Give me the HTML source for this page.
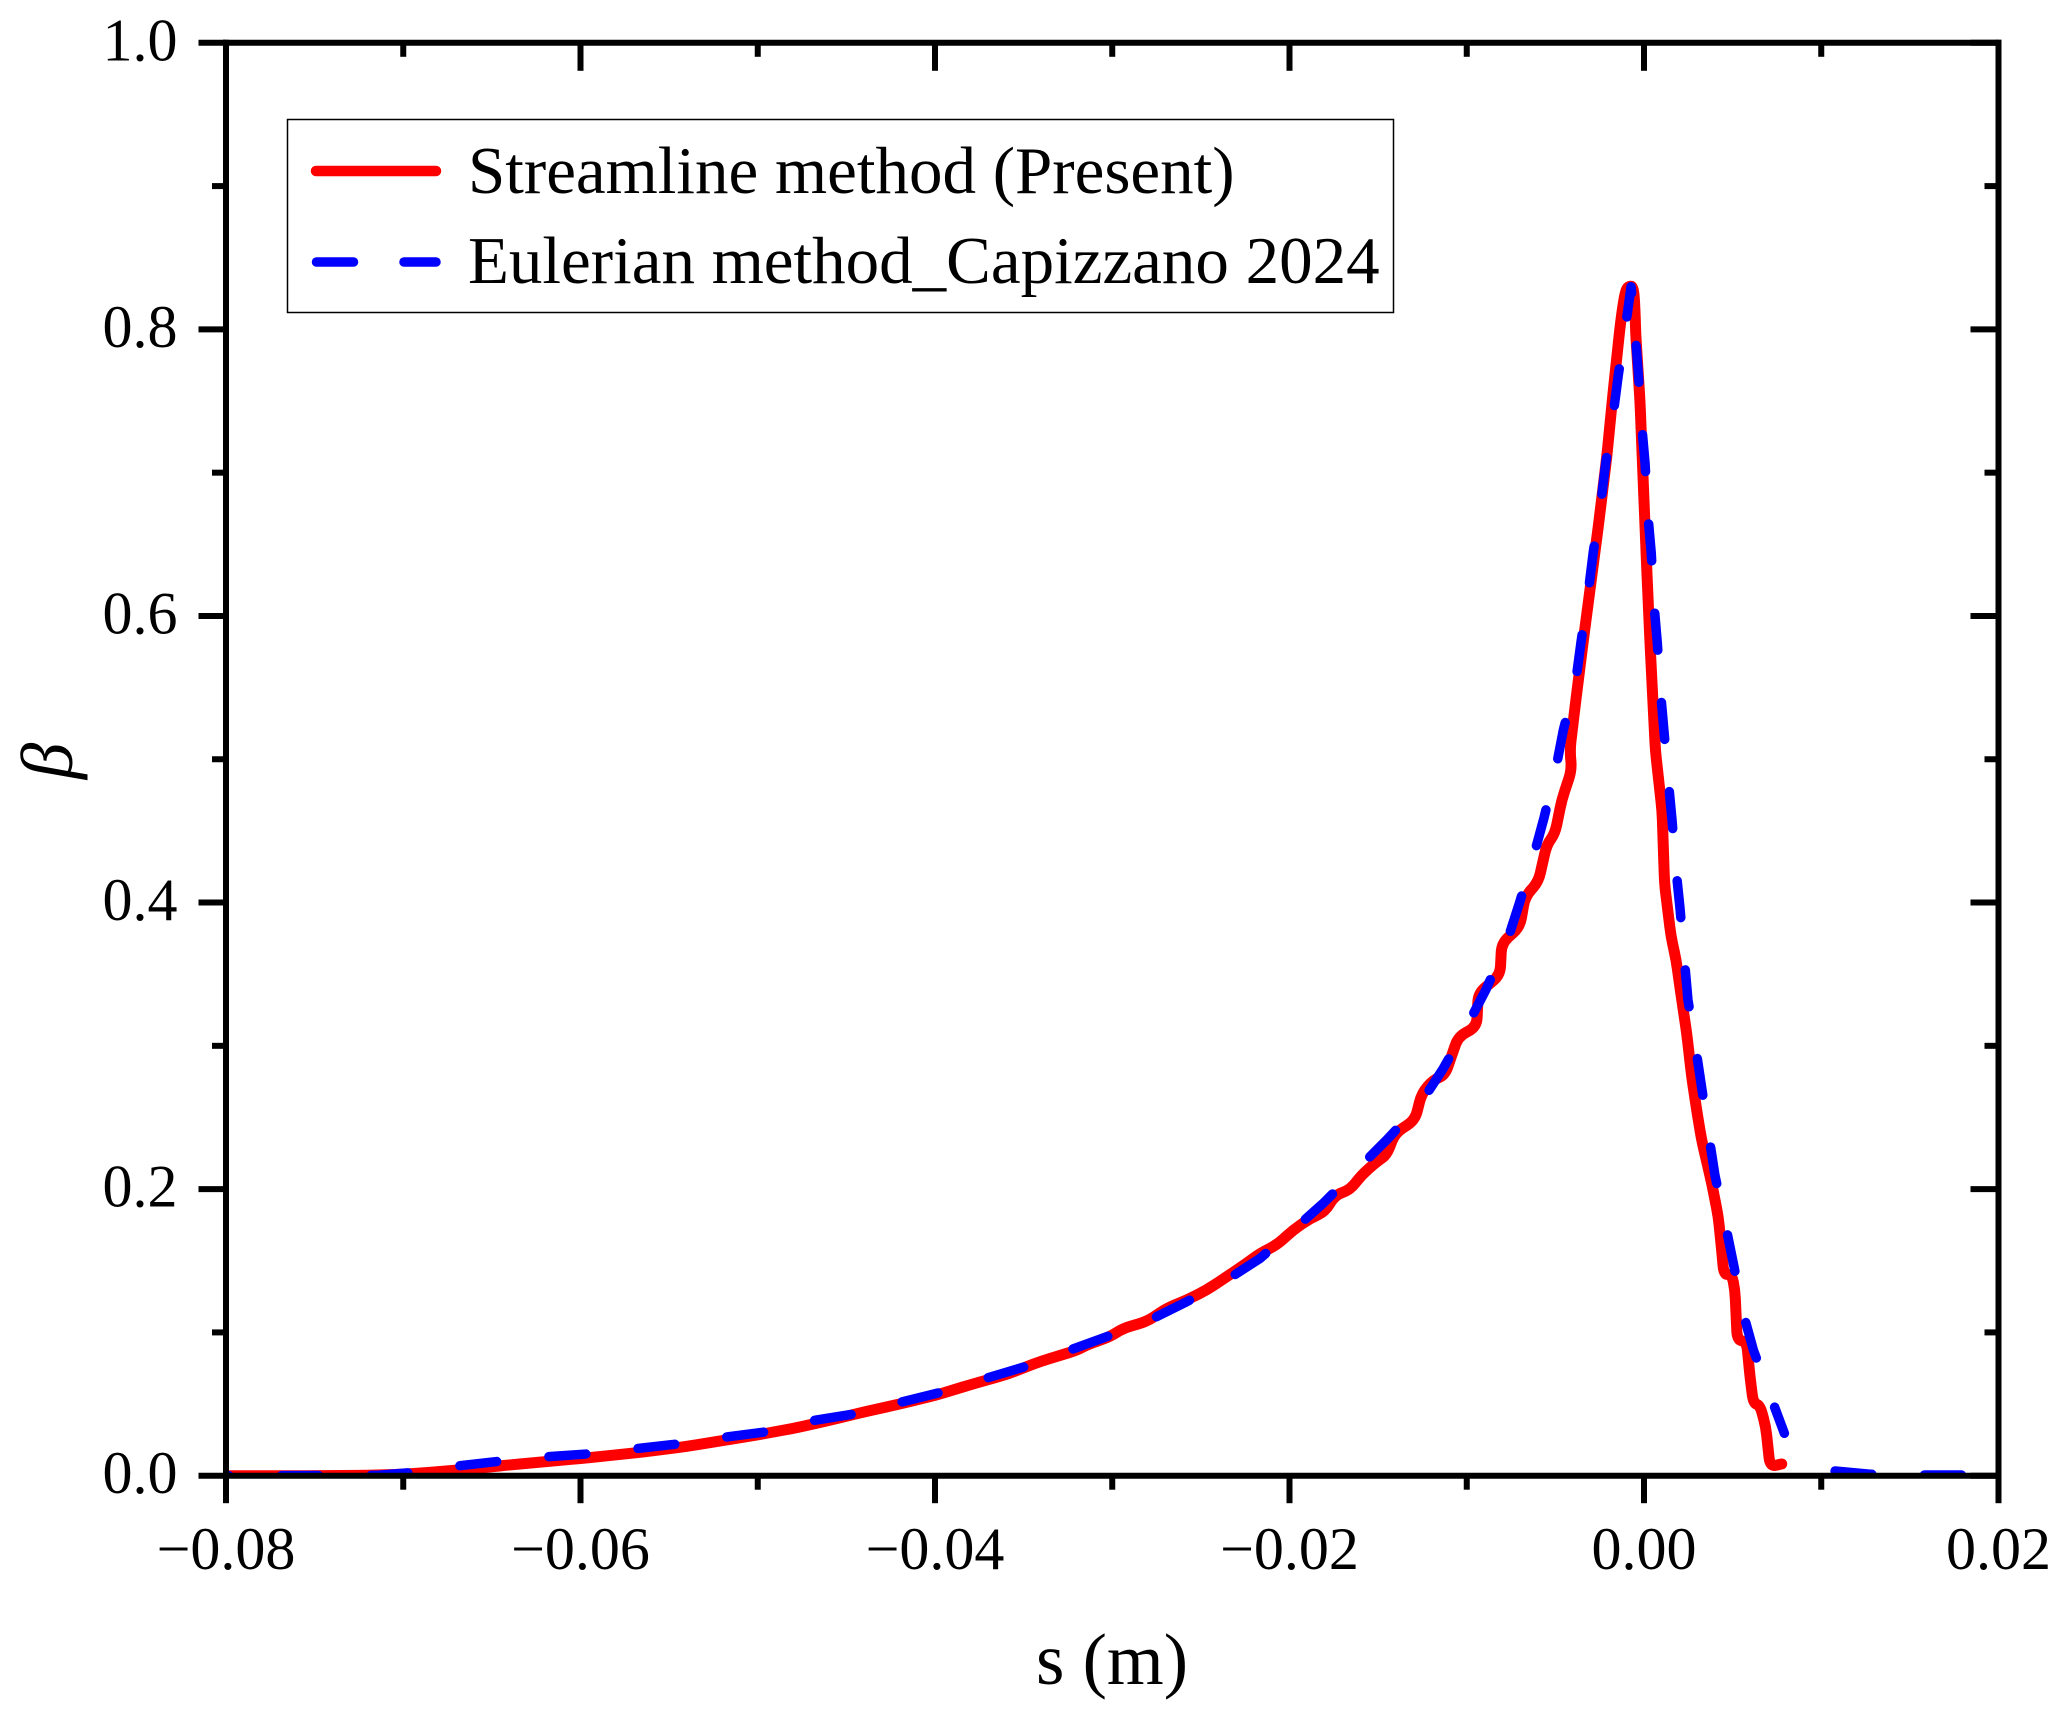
<!DOCTYPE html>
<html lang="en">
<head>
<meta charset="utf-8">
<title>Streamline vs Eulerian collection efficiency</title>
<style>
  html, body { margin: 0; padding: 0; background: #ffffff; }
  svg { display: block; }
  text { font-family: "Liberation Serif", "Times New Roman", serif; fill: #000; }
</style>
</head>
<body>
<svg id="chart" xmlns="http://www.w3.org/2000/svg" width="2068" height="1715" viewBox="0 0 2068 1715">
  <rect x="0" y="0" width="2068" height="1715" fill="#ffffff"/>
  <defs>
    <clipPath id="plot-clip"><rect x="226" y="42.8" width="1772.5" height="1432.9"/></clipPath>
  </defs>
  <g id="series-layer" clip-path="url(#plot-clip)"></g>
  <g id="axes-layer"></g>

  <g>
    <rect x="287.5" y="119.5" width="1106" height="193" fill="#ffffff" stroke="#000000" stroke-width="1.5"/>
    <line x1="316" y1="171" x2="436" y2="171" stroke="#ff0000" stroke-width="10.5" stroke-linecap="round"/>
    <text x="468" y="193" font-size="67">Streamline method (Present)</text>
    <line x1="316.5" y1="262" x2="353.5" y2="262" stroke="#0000ff" stroke-width="9.5" stroke-linecap="round"/>
    <line x1="404" y1="262" x2="436" y2="262" stroke="#0000ff" stroke-width="9.5" stroke-linecap="round"/>
    <text x="468" y="283" font-size="67">Eulerian method_Capizzano 2024</text>
  </g>

  <text x="1112" y="1684" font-size="73" text-anchor="middle">s (m)</text>
  <text transform="translate(72 761) rotate(-90)" font-size="73" font-style="italic" text-anchor="middle">β</text>
</svg>

<script>
const xMajorTicks = [-0.08, -0.06, -0.04, -0.02, 0.00, 0.02];
const xMajorLabels = ['\u22120.08', '\u22120.06', '\u22120.04', '\u22120.02', '0.00', '0.02'];
const xMinorTicks = [-0.07, -0.05, -0.03, -0.01, 0.01];
const yMajorTicks = [0, 0.2, 0.4, 0.6, 0.8, 1.0];
const yMajorLabels = ['0.0', '0.2', '0.4', '0.6', '0.8', '1.0'];
const yMinorTicks = [0.1, 0.3, 0.5, 0.7, 0.9];

const streamlineS = [-0.08,-0.075,-0.072,-0.07,-0.068,-0.066,-0.064,-0.062,-0.06,-0.058,-0.056,-0.054,-0.052,-0.05,-0.048,-0.046,-0.044,-0.042,-0.04,-0.038,-0.036,-0.034,-0.032,-0.03144,-0.03013,-0.02938,-0.02806,-0.02693,-0.0258,-0.02467,-0.02354,-0.02242,-0.02166,-0.02072,-0.01979,-0.01884,-0.018,-0.01743,-0.01659,-0.01593,-0.01508,-0.01452,-0.01405,-0.01292,-0.01254,-0.01189,-0.01123,-0.01048,-0.00944,-0.00935,-0.00812,-0.00803,-0.007,-0.00671,-0.00596,-0.00549,-0.00502,-0.00464,-0.00408,-0.00418,-0.00389,-0.00342,-0.00305,-0.00258,-0.0021,-0.00173,-0.00135,-0.0012,-0.00107,-0.00094,-0.00073,-0.00065,-0.00056,-0.0005,-0.00047,-0.00023,-0.00004,0.00015,0.00034,0.00064,0.00102,0.00116,0.00152,0.00181,0.00213,0.00241,0.00269,0.00297,0.00325,0.00382,0.00419,0.00438,0.00451,0.00495,0.00513,0.00526,0.00579,0.00598,0.00617,0.00654,0.00687,0.00711,0.00777];
const streamlineBeta = [0,0,0.0003,0.001,0.0028,0.005,0.0075,0.0098,0.012,0.0145,0.0172,0.0205,0.0245,0.0285,0.033,0.0385,0.0445,0.05,0.056,0.0635,0.0705,0.08,0.0875,0.0912,0.097,0.1029,0.1075,0.1168,0.1226,0.1296,0.1389,0.1482,0.1552,0.161,0.1715,0.1796,0.1842,0.1959,0.1994,0.2099,0.2191,0.2238,0.239,0.2482,0.2669,0.2762,0.2796,0.3064,0.3133,0.3367,0.3494,0.3715,0.3831,0.4041,0.4145,0.4402,0.4483,0.4716,0.4925,0.5065,0.5367,0.5832,0.6181,0.6623,0.7111,0.7577,0.8019,0.8158,0.8252,0.8294,0.8303,0.8296,0.8252,0.8112,0.7973,0.7507,0.6926,0.6344,0.5809,0.5065,0.4638,0.4129,0.3766,0.36,0.332,0.3087,0.2785,0.2552,0.2343,0.2041,0.1808,0.1575,0.1401,0.1408,0.1296,0.0947,0.0935,0.0691,0.0505,0.0493,0.0342,0.0063,0.0082];

const eulerianS = [-0.08,-0.0715,-0.0697,-0.0668,-0.0648,-0.0618,-0.0597,-0.0567,-0.0547,-0.0519,-0.0496,-0.0469,-0.0446,-0.0419,-0.0398,-0.0369,-0.0349,-0.03238,-0.03031,-0.02787,-0.0258,-0.02354,-0.02166,-0.01979,-0.0181,-0.01612,-0.01452,-0.0126,-0.01132,-0.00991,-0.00891,-0.00771,-0.00703,-0.00621,-0.00564,-0.00497,-0.00455,-0.00384,-0.00355,-0.00314,-0.00286,-0.00244,-0.00216,-0.00173,-0.00145,-0.00103,-0.00073,-0.00049,-0.00032,-0.00013,0.00006,0.00021,0.00041,0.00056,0.00075,0.00094,0.00113,0.00138,0.00158,0.00181,0.00203,0.00229,0.00248,0.00293,0.00325,0.00368,0.004,0.00461,0.00504,0.0056,0.00617,0.00715,0.00792,0.009,0.01078,0.01275,0.01567,0.018];
const eulerianBeta = [0,0.0002,0.002,0.007,0.0098,0.0133,0.0151,0.0191,0.0219,0.0268,0.0305,0.0384,0.043,0.0514,0.0578,0.0688,0.0762,0.0877,0.097,0.1087,0.1214,0.1366,0.1517,0.1715,0.1901,0.2145,0.2343,0.2599,0.2843,0.3157,0.3394,0.3734,0.3995,0.4332,0.4592,0.4937,0.5204,0.5553,0.5821,0.6169,0.6448,0.6786,0.7065,0.7414,0.7681,0.803,0.8298,0.7961,0.7693,0.7333,0.7065,0.6716,0.6437,0.6088,0.5813,0.546,0.5192,0.484,0.4577,0.4226,0.3962,0.3585,0.332,0.2976,0.2711,0.2355,0.2099,0.1743,0.1482,0.1133,0.0877,0.0551,0.0296,null,0.0033,0.001,0.0005,0.0005];

const SVG_NS = 'http://www.w3.org/2000/svg';
const plotLeft = 226, plotRight = 1998.5, plotTop = 42.8, plotBottom = 1475.7;
const xMin = -0.08, xMax = 0.02, yMin = 0, yMax = 1;
const cornerRadius = 9;
const xScale = function (v) { return plotLeft + (v - xMin) / (xMax - xMin) * (plotRight - plotLeft); };
const yScale = function (v) { return plotBottom - (v - yMin) / (yMax - yMin) * (plotBottom - plotTop); };

const seriesLayer = document.getElementById('series-layer');
const axesLayer = document.getElementById('axes-layer');

function makeLine(x1, y1, x2, y2, width) {
  const l = document.createElementNS(SVG_NS, 'line');
  l.setAttribute('x1', x1);
  l.setAttribute('y1', y1);
  l.setAttribute('x2', x2);
  l.setAttribute('y2', y2);
  l.setAttribute('stroke', '#000000');
  l.setAttribute('stroke-width', width);
  axesLayer.appendChild(l);
  return l;
}

function makeLabel(x, y, str, anchor) {
  const t = document.createElementNS(SVG_NS, 'text');
  t.setAttribute('x', x);
  t.setAttribute('y', y);
  t.setAttribute('font-size', '60');
  t.setAttribute('text-anchor', anchor);
  t.textContent = str;
  axesLayer.appendChild(t);
  return t;
}

function segmentsFrom(xs, ys) {
  const segments = [];
  let current = [];
  for (let i = 0; i < xs.length; i++) {
    if (ys[i] === null) {
      if (current.length) segments.push(current);
      current = [];
    } else {
      current.push([xScale(xs[i]), yScale(ys[i])]);
    }
  }
  if (current.length) segments.push(current);
  return segments;
}

function fmt(p) { return p[0].toFixed(2) + ' ' + p[1].toFixed(2); }

function towards(a, b, dist) {
  const d = Math.hypot(b[0] - a[0], b[1] - a[1]) || 1;
  const t = Math.min(dist / d, 0.5);
  return [a[0] + (b[0] - a[0]) * t, a[1] + (b[1] - a[1]) * t];
}

function roundedPath(pts, radius) {
  let d = 'M' + fmt(pts[0]);
  for (let i = 1; i < pts.length - 1; i++) {
    const entry = towards(pts[i], pts[i - 1], radius);
    const exit = towards(pts[i], pts[i + 1], radius);
    d += ' L' + fmt(entry) + ' Q' + fmt(pts[i]) + ' ' + fmt(exit);
  }
  d += ' L' + fmt(pts[pts.length - 1]);
  return d;
}

function makeSeriesPath(pts, radius, color, width) {
  const p = document.createElementNS(SVG_NS, 'path');
  p.setAttribute('d', roundedPath(pts, radius));
  p.setAttribute('fill', 'none');
  p.setAttribute('stroke', color);
  p.setAttribute('stroke-width', width);
  p.setAttribute('stroke-linecap', 'round');
  p.setAttribute('stroke-linejoin', 'round');
  seriesLayer.appendChild(p);
  return p;
}

segmentsFrom(streamlineS, streamlineBeta).forEach(function (pts) {
  const line = makeSeriesPath(pts, cornerRadius, '#ff0000', 11);
  
  
});

segmentsFrom(eulerianS, eulerianBeta).forEach(function (pts, i) {
  const line = makeSeriesPath(pts, 0, '#0000ff', 9.5);
  line.setAttribute('stroke-dasharray', '37 52.5');
  line.setAttribute('stroke-dashoffset', i === 0 ? '34' : '0');
  
  
});

const spineTop = makeLine(plotLeft - 3, plotTop, plotRight + 3, plotTop, 6);


const spineBottom = makeLine(plotLeft - 3, plotBottom, plotRight + 3, plotBottom, 6);


const spineLeft = makeLine(plotLeft, plotTop - 3, plotLeft, plotBottom + 3, 6);


const spineRight = makeLine(plotRight, plotTop - 3, plotRight, plotBottom + 3, 6);



xMajorTicks.forEach(function (v, i) {
  const x = xScale(v);
  const tickB = makeLine(x, plotBottom, x, plotBottom + 27.5, 6);
  
  
  const tickT = makeLine(x, plotTop, x, plotTop + 28, 6);
  
  
  const label = makeLabel(x, 1569, xMajorLabels[i], 'middle');
  
  
});

xMinorTicks.forEach(function (v) {
  const x = xScale(v);
  const tickB = makeLine(x, plotBottom, x, plotBottom + 14, 6);
  
  
  const tickT = makeLine(x, plotTop, x, plotTop + 14, 6);
  
  
});

yMajorTicks.forEach(function (v, i) {
  const y = yScale(v);
  const tickL = makeLine(plotLeft, y, plotLeft - 27.5, y, 6);
  
  
  const tickR = makeLine(plotRight, y, plotRight - 28, y, 6);
  
  
  const label = makeLabel(177.5, y + 17.5, yMajorLabels[i], 'end');
  
  
});

yMinorTicks.forEach(function (v) {
  const y = yScale(v);
  const tickL = makeLine(plotLeft, y, plotLeft - 14, y, 6);
  
  
  const tickR = makeLine(plotRight, y, plotRight - 14, y, 6);
  
  
});
</script>
</body>
</html>
